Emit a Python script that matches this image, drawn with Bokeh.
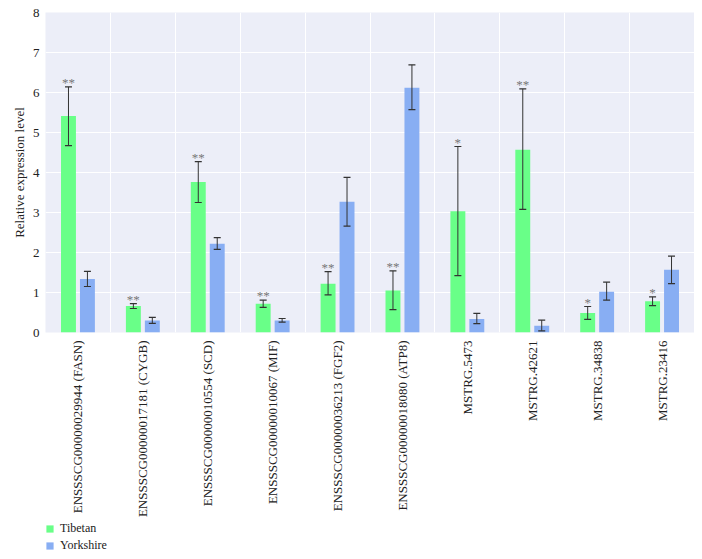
import numpy as np
from bokeh.plotting import figure
from bokeh.layouts import column
from bokeh.models import (ColumnDataSource, FixedTicker, Whisker, TeeHead, Legend, LegendItem,
                          Range1d)
from bokeh.core.properties import value
from bokeh.embed import file_html
from bokeh.resources import INLINE

genes = ["ENSSSCG00000029944 (FASN)", "ENSSSCG00000017181 (CYGB)", "ENSSSCG00000010554 (SCD)",
         "ENSSSCG00000010067 (MIF)", "ENSSSCG00000036213 (FGF2)", "ENSSSCG00000018080 (ATP8)",
         "MSTRG.5473", "MSTRG.42621", "MSTRG.34838", "MSTRG.23416"]
tibetan = [5.41, 0.66, 3.76, 0.72, 1.22, 1.05, 3.03, 4.57, 0.49, 0.78]
tibetan_hi = [6.14, 0.72, 4.27, 0.81, 1.52, 1.54, 4.65, 6.09, 0.65, 0.89]
tibetan_lo = [4.67, 0.60, 3.25, 0.63, 0.94, 0.57, 1.42, 3.08, 0.33, 0.67]
yorkshire = [1.34, 0.30, 2.22, 0.30, 3.27, 6.12, 0.34, 0.17, 1.02, 1.57]
yorkshire_hi = [1.53, 0.38, 2.37, 0.35, 3.88, 6.69, 0.48, 0.31, 1.26, 1.91]
yorkshire_lo = [1.15, 0.23, 2.08, 0.26, 2.66, 5.57, 0.22, 0.04, 0.81, 1.22]
signif = ["**", "**", "**", "**", "**", "**", "*", "**", "*", "*"]
y_ticks = [0, 1, 2, 3, 4, 5, 6, 7, 8]
series = ["Tibetan", "Yorkshire"]

FONT = "Liberation Serif"
GREEN = "#69ff88"
BLUE = "#88aef3"
BG = "#eceef8"

idx = np.arange(len(genes))
centers = idx + 0.5
off = 0.146
bw = 0.23

src_t = ColumnDataSource(dict(x=centers - off, top=tibetan, hi=tibetan_hi, lo=tibetan_lo, s=signif))
src_y = ColumnDataSource(dict(x=centers + off, top=yorkshire, hi=yorkshire_hi, lo=yorkshire_lo))

p = figure(frame_width=649, frame_height=320, output_backend="svg", toolbar_location=None,
           x_range=Range1d(0, len(genes)), y_range=Range1d(0, 8),
           min_border_left=44, min_border_right=1, min_border_top=12, min_border_bottom=0)
p.background_fill_color = BG
p.border_fill_color = "white"
p.outline_line_color = None

rt = p.vbar(x="x", top="top", bottom=0, width=bw, source=src_t, fill_color=GREEN, line_color=None)
ry = p.vbar(x="x", top="top", bottom=0, width=bw, source=src_y, fill_color=BLUE, line_color=None)

for src in (src_t, src_y):
    w = Whisker(base="x", upper="hi", lower="lo", source=src, line_color="#333333", line_width=1,
                upper_head=TeeHead(size=7, line_color="#333333", line_width=1.2),
                lower_head=TeeHead(size=7, line_color="#333333", line_width=1.2),
                level="annotation")
    p.add_layout(w)

p.text(x="x", y="hi", text="s", source=src_t, text_align="center", text_baseline="bottom",
       y_offset=3, text_font=value(FONT), text_font_size="13px", text_color="#777777")

# axes
p.xaxis.ticker = FixedTicker(ticks=list(centers))
p.xaxis.major_label_overrides = {float(c): g for c, g in zip(centers, genes)}
p.xaxis.major_label_orientation = np.pi / 2
p.xaxis.major_label_text_font = FONT
p.xaxis.major_label_text_font_size = "13px"
p.xaxis.major_label_text_color = "#222222"
p.xaxis.major_label_standoff = 8
p.xaxis.major_tick_out = 0
p.xaxis.major_tick_in = 0
p.xaxis.axis_line_color = None
p.xaxis.major_tick_line_color = None
p.xaxis.minor_tick_line_color = None

p.yaxis.ticker = FixedTicker(ticks=y_ticks)
p.yaxis.axis_label = "Relative expression level"
p.yaxis.axis_label_text_font = FONT
p.yaxis.axis_label_text_font_size = "13px"
p.yaxis.axis_label_text_font_style = "normal"
p.yaxis.axis_label_text_color = "#222222"
p.yaxis.axis_label_standoff = 3
p.yaxis.major_label_text_font = FONT
p.yaxis.major_label_text_font_size = "13px"
p.yaxis.major_label_text_color = "#222222"
p.yaxis.major_label_standoff = 6
p.yaxis.major_tick_out = 0
p.yaxis.major_tick_in = 0
p.yaxis.axis_line_color = None
p.yaxis.major_tick_line_color = None
p.yaxis.minor_tick_line_color = None

p.xgrid.ticker = FixedTicker(ticks=list(idx) + [len(genes)])
p.xgrid.grid_line_color = "white"
p.xgrid.grid_line_width = 1
p.ygrid.grid_line_color = "white"
p.ygrid.grid_line_width = 1

# legend in its own small figure below the chart (dummy glyphs sit outside its range)
lf = figure(width=694, height=32, output_backend="svg", toolbar_location=None,
            x_range=Range1d(0, 1), y_range=Range1d(0, 1),
            min_border_left=45, min_border_right=0, min_border_top=1, min_border_bottom=0)
lf.axis.visible = False
lf.grid.visible = False
lf.outline_line_color = None
lf.background_fill_color = "white"
lt = lf.vbar(x=[-5], top=[-5], bottom=[-6], width=0.1, fill_color=GREEN, line_color=None)
ly = lf.vbar(x=[-5], top=[-5], bottom=[-6], width=0.1, fill_color=BLUE, line_color=None)

legend = Legend(items=[LegendItem(label=series[0], renderers=[lt]),
                       LegendItem(label=series[1], renderers=[ly])],
                location="top_left", orientation="vertical")
legend.label_text_font = FONT
legend.label_text_font_size = "12px"
legend.label_text_color = "#222222"
legend.glyph_width = 9
legend.glyph_height = 9
legend.label_height = 12
legend.spacing = 2
legend.padding = 0
legend.margin = 0
legend.border_line_color = None
legend.background_fill_alpha = 0
legend.label_standoff = 6
lf.add_layout(legend)

layout = column(p, lf, spacing=0)
open("out.html", "w").write(file_html(layout, INLINE))
